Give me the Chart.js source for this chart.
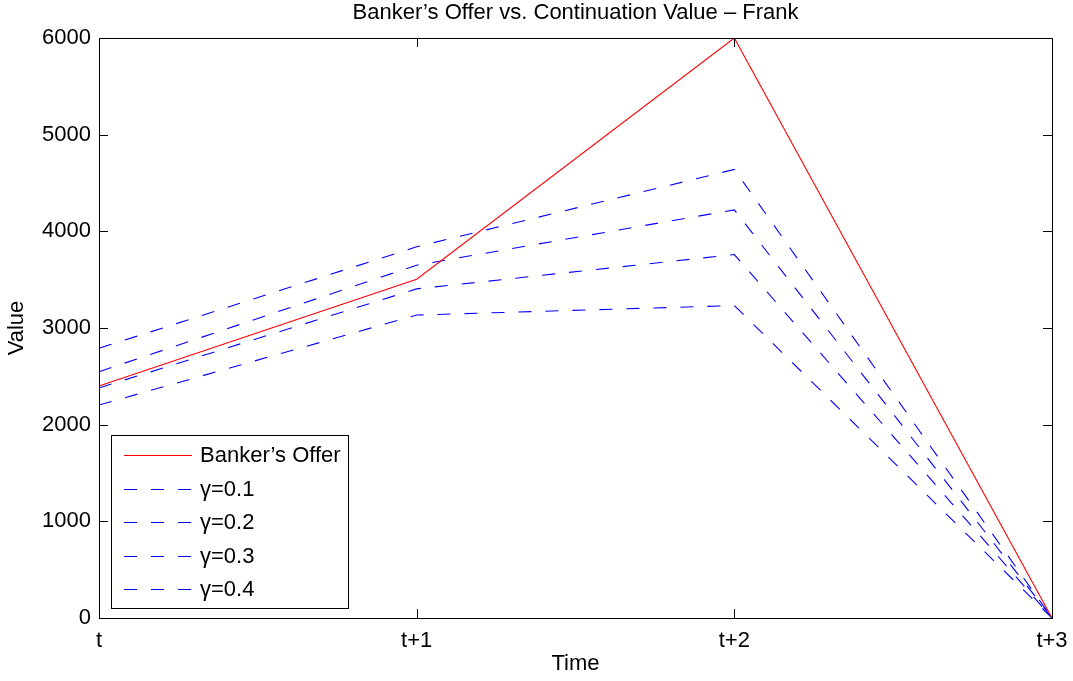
<!DOCTYPE html>
<html><head><meta charset="utf-8">
<script src="https://cdn.jsdelivr.net/npm/chart.js@4.4.1/dist/chart.umd.min.js"></script>
<style>html,body{margin:0;padding:0;background:#fff}#wrap{width:1073px;height:681px}</style>
</head><body><div id="wrap"><canvas id="c" width="1073" height="681"></canvas></div>
<script>
const categories = ['t', 't+1', 't+2', 't+3'];
const bankersOffer = [2400, 3505, 6000, 0];
const gamma01 = [2790, 3840, 4640, 0];
const gamma02 = [2548, 3650, 4222, 0];
const gamma03 = [2380, 3405, 3760, 0];
const gamma04 = [2203, 3134, 3232, 0];
const seriesLabels = ['Banker\u2019s Offer', '\u03b3=0.1', '\u03b3=0.2', '\u03b3=0.3', '\u03b3=0.4'];
const yTickValues = [0, 1000, 2000, 3000, 4000, 5000, 6000];
const titleText = 'Banker\u2019s Offer vs. Continuation Value \u2013 Frank';
const xTitle = 'Time';
const yTitle = 'Value';

const FONT = '"Liberation Sans", Arial, Helvetica, sans-serif';
const FS = 22;
const DASH = [13, 14];

const datasets = [
  {label: seriesLabels[0], data: bankersOffer, borderColor: '#ff0000', borderWidth: 1.1, borderDash: []},
  {label: seriesLabels[1], data: gamma01, borderColor: '#0000ff', borderWidth: 1.1, borderDash: DASH},
  {label: seriesLabels[2], data: gamma02, borderColor: '#0000ff', borderWidth: 1.1, borderDash: DASH},
  {label: seriesLabels[3], data: gamma03, borderColor: '#0000ff', borderWidth: 1.1, borderDash: DASH},
  {label: seriesLabels[4], data: gamma04, borderColor: '#0000ff', borderWidth: 1.1, borderDash: DASH}
].map(d => Object.assign(d, {pointRadius: 0, tension: 0, fill: false}));

const matlabPlugin = {
  id: 'matlab',
  beforeDraw(chart) {
    const ctx = chart.ctx;
    ctx.save();
    ctx.fillStyle = '#fff';
    ctx.fillRect(0, 0, chart.width, chart.height);
    ctx.restore();
  },
  afterDraw(chart) {
    const ctx = chart.ctx;
    const a = chart.chartArea;
    const xs = chart.scales.x, ys = chart.scales.y;
    ctx.save();
    ctx.strokeStyle = '#000';
    ctx.lineWidth = 1;
    ctx.setLineDash([]);
    ctx.strokeRect(Math.round(a.left) + 0.5, Math.round(a.top) + 0.5, Math.round(a.right - a.left), Math.round(a.bottom - a.top));
    const TL = 9;
    ctx.beginPath();
    yTickValues.forEach(v => {
      const y = Math.round(ys.getPixelForValue(v)) + 0.5;
      ctx.moveTo(a.left, y); ctx.lineTo(a.left + TL, y);
      ctx.moveTo(a.right, y); ctx.lineTo(a.right - TL, y);
    });
    categories.forEach((c, i) => {
      const x = Math.round(xs.getPixelForValue(i)) + 0.5;
      ctx.moveTo(x, a.bottom); ctx.lineTo(x, a.bottom - TL);
      ctx.moveTo(x, a.top); ctx.lineTo(x, a.top + TL);
    });
    ctx.stroke();
    ctx.fillStyle = '#000';
    ctx.font = FS + 'px ' + FONT;
    ctx.textAlign = 'center';
    ctx.textBaseline = 'middle';
    ctx.fillText(titleText, (a.left + a.right) / 2, 13);
    const lx = 111.5, ly = 435.5, lw = 237, lh = 173;
    ctx.fillStyle = '#fff';
    ctx.fillRect(lx, ly, lw, lh);
    ctx.strokeStyle = '#000';
    ctx.strokeRect(lx, ly, lw, lh);
    const rowY = [455, 489, 522, 556, 589];
    chart.data.datasets.forEach((d, i) => {
      const y = rowY[i] + 0.5;
      ctx.strokeStyle = d.borderColor;
      ctx.lineWidth = 1;
      ctx.setLineDash(d.borderDash || []);
      ctx.beginPath();
      ctx.moveTo(124, y); ctx.lineTo(192, y);
      ctx.stroke();
      ctx.setLineDash([]);
      ctx.fillStyle = '#000';
      ctx.textAlign = 'left';
      ctx.textBaseline = 'middle';
      ctx.font = FS + 'px ' + FONT;
      ctx.fillText(d.label, 200, rowY[i] + 1);
    });
    ctx.restore();
  }
};

new Chart(document.getElementById('c'), {
  type: 'line',
  data: {labels: categories, datasets},
  options: {
    responsive: false,
    animation: false,
    devicePixelRatio: 1,
    layout: {padding: {top: 38, right: 21, left: 0, bottom: 0}},
    plugins: {legend: {display: false}, title: {display: false}, tooltip: {enabled: false}},
    scales: {
      x: {
        type: 'category',
        offset: false,
        grid: {display: false, drawTicks: false},
        border: {display: false},
        ticks: {color: '#000', font: {family: FONT, size: FS}, padding: 10, maxRotation: 0, autoSkip: false},
        title: {display: true, text: xTitle, color: '#000', font: {family: FONT, size: FS, lineHeight: 1.2}, padding: {top: 0, bottom: 4}},
        afterFit(s) { s.height = 63; s.paddingLeft = 0; s.paddingRight = 0; }
      },
      y: {
        min: 0, max: 6000,
        grid: {display: false, drawTicks: false},
        border: {display: false},
        ticks: {stepSize: 1000, color: '#000', font: {family: FONT, size: FS}, padding: 8, callback: v => String(v)},
        title: {display: true, text: yTitle, color: '#000', font: {family: FONT, size: FS, lineHeight: 1.2}, padding: {top: 4, bottom: 0}},
        afterFit(s) { s.width = 99; s.paddingTop = 0; s.paddingBottom = 0; }
      }
    }
  },
  plugins: [matlabPlugin]
});
</script></body></html>
